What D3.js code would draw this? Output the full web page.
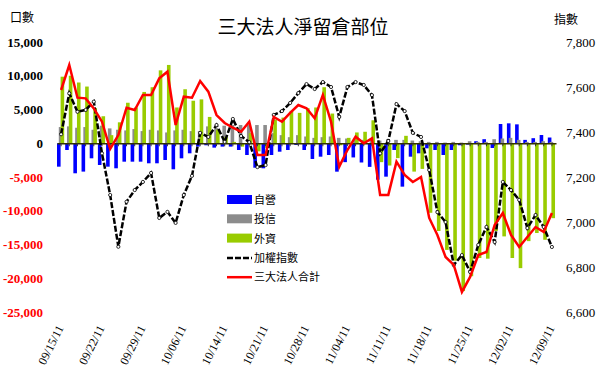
<!DOCTYPE html>
<html>
<head>
<meta charset="utf-8">
<script src="https://cdn.jsdelivr.net/npm/d3@7"></script>
<style>
  body { margin: 0; background: #fff; }
  svg { display: block; }
</style>
</head>
<body>
<div id="chart"></div>
<script>
'use strict'

const dates = [
  '09/15/11', '09/16/11', '09/19/11', '09/20/11', '09/21/11', '09/22/11', '09/23/11', '09/26/11', '09/27/11', '09/28/11', '09/29/11', '09/30/11',
  '10/03/11', '10/04/11', '10/05/11', '10/06/11', '10/07/11', '10/11/11', '10/12/11', '10/13/11', '10/14/11', '10/17/11', '10/18/11', '10/19/11',
  '10/20/11', '10/21/11', '10/24/11', '10/25/11', '10/26/11', '10/27/11', '10/28/11', '10/31/11',
  '11/01/11', '11/02/11', '11/03/11', '11/04/11', '11/07/11', '11/08/11', '11/09/11', '11/10/11', '11/11/11', '11/14/11', '11/15/11', '11/16/11',
  '11/17/11', '11/18/11', '11/21/11', '11/22/11', '11/23/11', '11/24/11', '11/25/11', '11/28/11', '11/29/11', '11/30/11',
  '12/01/11', '12/02/11', '12/05/11', '12/06/11', '12/07/11', '12/08/11', '12/09/11'
]

// 自營
const dealers = [
  -3470, -1000, -4450, -4200, -2230, -3220, -3470, -3710, -2730, -2730, -2730, -2970, -2970, -2480, -3860, -2230,
  -1490, -500, -300, -650, -500, -500, -1000, -1740, -3620, -3710, -1740, -1250, -1000, -260, -1000, -2330,
  -1990, -1740, -4210, -2800, -2100, -2850, -3500, -5400, -4950, -1000, -6430, -1990, -1490, -750, -1000, -1740,
  -1000, -300, -200, 300, 600, -700, 2850, 2950, 2800, 500, 750, 1220, 850
]
// 投信
const trusts = [
  2400, 2500, 2300, 2400, 2000, 2600, 2200, 2000, 1900, 2100, 1800, 2000, 1900, 1600, 1900, 2000,
  1800, 1800, 2500, 2300, 2600, 2700, 2700, 2700, 2700, 2700, 1500, 1200, 900, 1200, 1000, 800,
  900, 1000, 800, 700, 600, 500, 500, 400, 600, 500, 500, 400, 300, 200, 200, 100,
  200, 100, 300, 200, 200, 600, 700, 800, 500, 200, 200, 300, 200
]
// 外資
const foreign = [
  9860, 10000, 9000, 8400, 5200, 4000, 1200, 3100, 6000, 5300, 7600, 8300, 10800, 11600, 5300, 8000,
  6300, 6500, 3900, 2000, 900, 200, -500, 1500, -1200, -700, 3500, 3800, 4800, 4500, 5200, 5300,
  8300, 4400, -300, 800, 1600, 1700, 3400, -2800, -3300, -2200, 1100, -4200, -3800, -10300, -13000, -15800,
  -17400, -21900, -19700, -17000, -17100, -13000, -13800, -17000, -18500, -14500, -13300, -14300, -11100
]
// 三大法人合計
const total = [
  7890, 11590, 6750, 6650, 5170, 3190, -850, 1220, 5270, 4920, 7150, 7150, 9610, 10600, 2700, 6900,
  6750, 9220, 7640, 4180, 3000, 2300, 1700, 3190, -1740, -1740, 3900, 3190, 4500, 5670, 5180, 3700,
  7160, 3190, -3470, -1000, 970, -10, 730, -7650, -7650, -2730, -4700, -5740, -5000, -11070, -13590, -16850,
  -18030, -22030, -19810, -16550, -16110, -12110, -10330, -13590, -15370, -13890, -12410, -13150, -10330
]
// 加權指數
const taiex = [
  7390, 7572, 7490, 7498, 7535, 7305, 7120, 6890, 7090, 7142, 7178, 7218, 7018, 7045, 6996, 7120,
  7205, 7396, 7378, 7431, 7356, 7458, 7382, 7355, 7244, 7253, 7476, 7493, 7529, 7573, 7613, 7591,
  7622, 7600, 7467, 7600, 7622, 7609, 7564, 7305, 7360, 7524, 7493, 7396, 7378, 7231, 7044, 7000,
  6809, 6853, 6778, 6898, 6978, 6911, 7178, 7142, 7098, 6973, 7031, 6978, 6889
]

const leftTicks = [15000, 10000, 5000, 0, -5000, -10000, -15000, -20000, -25000]
const rightTicks = [7800, 7600, 7400, 7200, 7000, 6800, 6600]
const dateTicks = dates.filter((d, i) => i % 5 === 0)

const width = 600
const height = 386

const svg = d3.select('#chart').append('svg')
  .attr('width', width)
  .attr('height', height)

const x = d3.scaleBand()
  .domain(dates)
  .range([57, 556])
  .padding(0)
const bw = x.bandwidth()

const yL = d3.scaleLinear().domain([-25000, 15000]).range([312, 42])
const yR = d3.scaleLinear().domain([6600, 7800]).range([312, 42])

const fmt = d3.formatLocale({ decimal: '.', thousands: ',', grouping: [3], currency: ['', ''], minus: '-' }).format(',')

// title
svg.append('text')
  .attr('x', 303)
  .attr('y', 34)
  .attr('text-anchor', 'middle')
  .style('font-family', '"Noto Sans CJK TC", sans-serif')
  .style('font-size', '19px')
  .text('三大法人淨留倉部位')

svg.append('text')
  .attr('x', 10).attr('y', 22)
  .style('font-family', '"Noto Sans CJK TC", sans-serif')
  .style('font-size', '12px')
  .text('口數')

svg.append('text')
  .attr('x', 554).attr('y', 24)
  .style('font-family', '"Noto Sans CJK TC", sans-serif')
  .style('font-size', '12px')
  .text('指數')

// bars: three series, half overlapping inside each day
const series = [
  { name: '自營', values: dealers, color: '#0000ff' },
  { name: '投信', values: trusts, color: '#8c8c8c' },
  { name: '外資', values: foreign, color: '#99cc00' }
]
const barW = bw * 0.44
const offset = d3.scaleLinear().domain([0, 1]).range([0, barW / 2])

series.forEach(function (s, si) {
  svg.append('g')
    .selectAll('rect')
    .data(s.values)
    .join('rect')
    .attr('x', (v, i) => x(dates[i]) + offset(si))
    .attr('width', barW)
    .attr('y', v => yL(Math.max(0, v)))
    .attr('height', v => Math.abs(yL(v) - yL(0)))
    .attr('fill', s.color)
})

// category axis on the zero line
const xAxis = d3.axisBottom(x).tickSizeInner(3).tickSizeOuter(0).tickFormat('')
const gX = svg.append('g')
  .attr('transform', `translate(0,${yL(0)})`)
  .call(xAxis)
gX.select('.domain').attr('stroke', '#333300').attr('stroke-width', 1.5)
gX.selectAll('.tick line').attr('stroke', '#333')

// lines
const lineIdx = d3.line()
  .x((v, i) => x(dates[i]) + bw / 2)
  .y(v => yR(v))
const lineTot = d3.line()
  .x((v, i) => x(dates[i]) + bw / 2)
  .y(v => yL(v))

svg.append('path')
  .datum(taiex)
  .attr('d', lineIdx)
  .attr('fill', 'none')
  .attr('stroke', '#000')
  .attr('stroke-width', 2.5)
  .attr('stroke-dasharray', '6,2')

svg.append('g')
  .selectAll('circle')
  .data(taiex)
  .join('circle')
  .attr('cx', (v, i) => x(dates[i]) + bw / 2)
  .attr('cy', v => yR(v))
  .attr('r', 1.6)
  .attr('fill', '#fff')
  .attr('stroke', '#000')
  .attr('stroke-width', 0.8)

svg.append('path')
  .datum(total)
  .attr('d', lineTot)
  .attr('fill', 'none')
  .attr('stroke', '#ff0000')
  .attr('stroke-width', 2.5)
  .attr('stroke-linejoin', 'miter')

// left axis
const gL = svg.append('g')
  .attr('transform', 'translate(57,0)')
  .call(d3.axisLeft(yL).tickValues(leftTicks).tickSize(0).tickPadding(14).tickFormat(fmt))
gL.select('.domain').remove()
gL.selectAll('text')
  .style('font-family', '"Liberation Serif", serif')
  .style('font-size', '13px')
  .style('font-weight', 'bold')
  .attr('fill', d => d < 0 ? '#ff0000' : '#000')

// right axis
const gR = svg.append('g')
  .attr('transform', 'translate(556,0)')
  .call(d3.axisRight(yR).tickValues(rightTicks).tickSize(0).tickPadding(10).tickFormat(fmt))
gR.select('.domain').remove()
gR.selectAll('text')
  .style('font-family', '"Liberation Serif", serif')
  .style('font-size', '13px')
  .attr('fill', '#000')

// rotated date labels
svg.append('g')
  .selectAll('text')
  .data(dateTicks)
  .join('text')
  .attr('transform', d => `translate(${x(d) + bw / 2 + 3},328) rotate(-63)`)
  .attr('text-anchor', 'end')
  .style('font-family', '"Liberation Serif", serif')
  .style('font-size', '12px')
  .text(d => d)

// legend
const legend = [
  { name: '自營', type: 'rect', color: '#0000ff' },
  { name: '投信', type: 'rect', color: '#8c8c8c' },
  { name: '外資', type: 'rect', color: '#99cc00' },
  { name: '加權指數', type: 'dash', color: '#000' },
  { name: '三大法人合計', type: 'line', color: '#ff0000' }
]
const lg = svg.append('g')
  .selectAll('g')
  .data(legend)
  .join('g')
  .attr('transform', (d, i) => `translate(227,${200 + i * 19.3})`)

lg.filter(d => d.type === 'rect')
  .append('rect')
  .attr('x', 0).attr('y', -5)
  .attr('width', 25).attr('height', 9)
  .attr('fill', d => d.color)

lg.filter(d => d.type !== 'rect')
  .append('line')
  .attr('x1', 0).attr('x2', 25)
  .attr('stroke', d => d.color)
  .attr('stroke-width', 2.5)
  .attr('stroke-dasharray', d => d.type === 'dash' ? '6,2' : null)

lg.append('text')
  .attr('x', 27)
  .attr('y', 4)
  .style('font-family', '"Noto Sans CJK TC", sans-serif')
  .style('font-size', '11px')
  .text(d => d.name)
</script>
</body>
</html>
